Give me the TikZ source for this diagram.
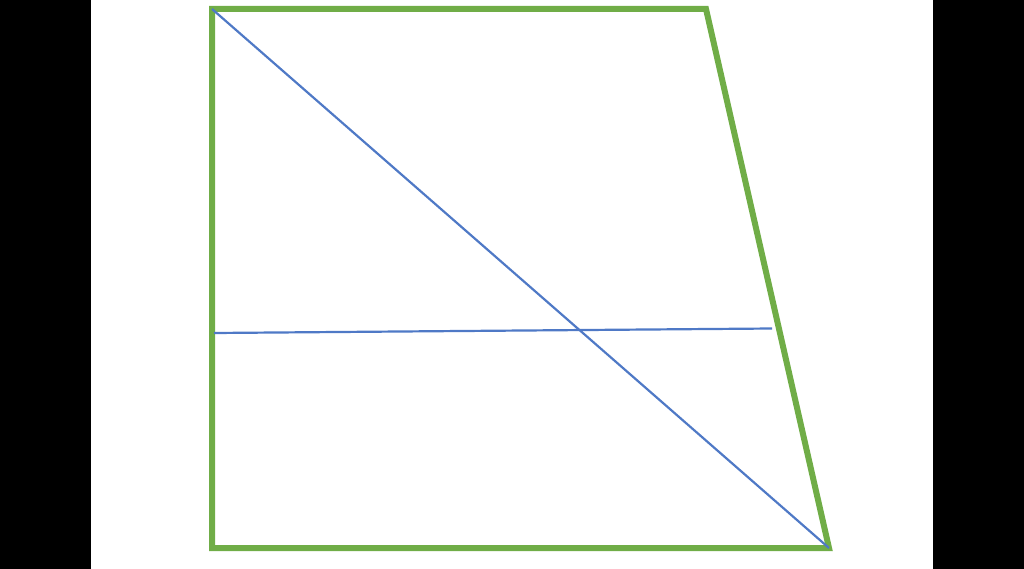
\documentclass[tikz,border=0pt]{standalone}
\definecolor{ogreen}{HTML}{70AD47}
\definecolor{oblue}{HTML}{4F79C6}
\begin{document}
\begin{tikzpicture}[x=1pt,y=-1pt,
  frame/.style={draw=ogreen,line width=6pt,line join=miter},
  bline/.style={draw=oblue,line width=2.2pt}]
\useasboundingbox (0,0) rectangle (1024,569);
\fill[black] (0,0) rectangle (91,569);
\fill[black] (933,0) rectangle (1024,569);
\coordinate (TL) at (212,9);
\coordinate (TR) at (706,9);
\coordinate (BR) at (829,548);
\coordinate (BL) at (212,548);
\coordinate (HL) at (214,333);
\coordinate (HR) at (772,328.5);
\draw[frame] (TL) -- (TR) -- (BR) -- (BL) -- cycle;
\draw[bline] (TL) -- (BR);
\draw[bline] (HL) -- (HR);
\end{tikzpicture}
\end{document}
